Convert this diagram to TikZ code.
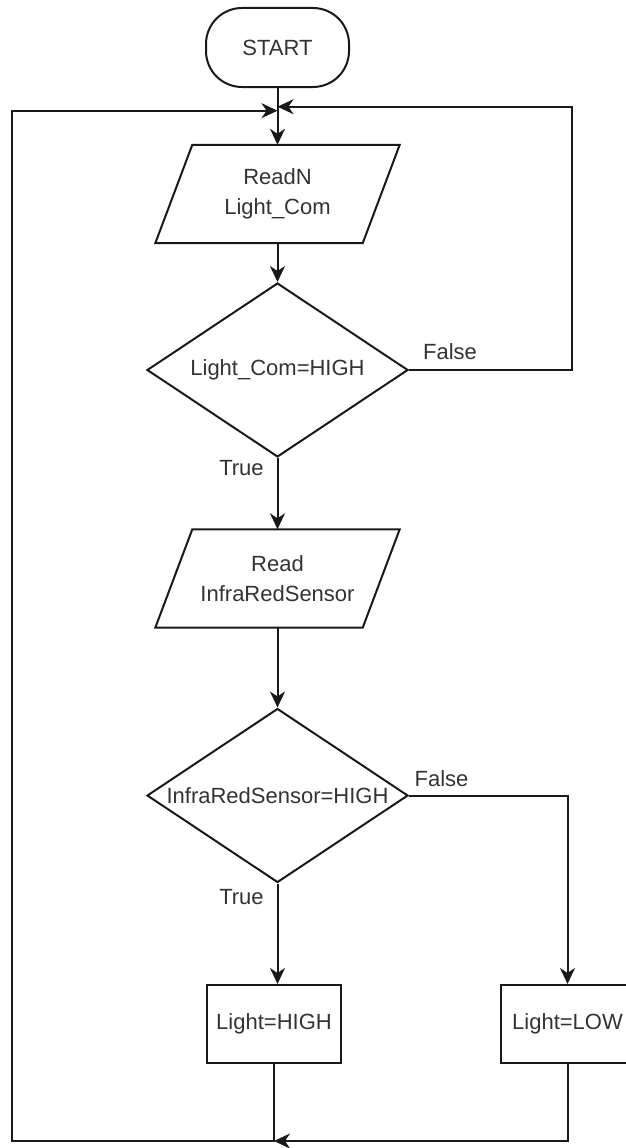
\documentclass[tikz,border=0pt]{standalone}
\usepackage{fontspec}
\setmainfont{Liberation Sans}
\usetikzlibrary{shapes.geometric,arrows.meta,calc}
\begin{document}
\begin{tikzpicture}[x=1pt,y=-1pt,
  every node/.style={font=\fontsize{22}{30}\selectfont, text=black!80},
  ln/.style={line width=2pt, draw=black!90},
  arr/.style={ln, -{Stealth[length=16pt,width=15pt,inset=5pt]}},
  term/.style={ln, rectangle, rounded corners=36pt, minimum width=143pt, minimum height=79pt, inner sep=0pt},
  io/.style={minimum width=244pt, minimum height=98pt, inner sep=0pt, align=center},
  dec/.style={ln, diamond, minimum width=261pt, minimum height=174pt, inner sep=0pt, aspect=1.5},
  proc/.style={ln, rectangle, minimum width=134pt, minimum height=78pt, inner sep=0pt},
  lbl/.style={inner sep=0pt}
]
\useasboundingbox (0,0) rectangle (626,1148);

% nodes
\node[term] (start) at (277.5,47.5) {START};
\node[io] (r1) at (277.5,194) {ReadN\\Light\_Com};
\node[dec] (d1) at (277.5,370) {\makebox[0pt]{Light\_Com=HIGH}};
\node[io] (r2) at (277.5,578.5) {Read\\InfraRedSensor};
\node[dec] (d2) at (277.5,795.5) {\makebox[0pt]{InfraRedSensor=HIGH}};
\node[proc] (high) at (274,1024) {Light=HIGH};
\node[proc] (low) at (567.5,1024) {Light=LOW};

% parallelogram outlines
\draw[ln] (r1.south west) -- ($(r1.south east)+(-37,0)$) -- (r1.north east) -- ($(r1.north west)+(37,0)$) -- cycle;
\draw[ln] (r2.south west) -- ($(r2.south east)+(-37,0)$) -- (r2.north east) -- ($(r2.north west)+(37,0)$) -- cycle;

% labels
\node[lbl] (f1) at (450,352) {False};
\node[lbl] (t1) at (241.5,468) {True};
\node[lbl] (f2) at (441.5,779) {False};
\node[lbl] (t2) at (241.5,897) {True};

% helper coordinates
\coordinate (jl) at (277.5,110.7);
\coordinate (jr) at (277.5,106.7);
\coordinate (rc) at (571.7,106.7);
\coordinate (bl) at (12,1141);

% connectors
\draw[arr] (start.south) -- (r1.north);
\draw[arr] (r1.south) -- (d1.north);
\draw[arr] (d1.south) -- (r2.north);
\draw[arr] (r2.south) -- (d2.north);
\draw[arr] (d1.east) -| (rc) -- (jr);
\draw[arr] (d2.south) -- (d2.south |- high.north);
\draw[arr] (d2.east) -| (low.north);
\draw[arr] (high.south) |- (bl) |- (jl);
\draw[arr] (low.south) |- (high.south |- bl);
\end{tikzpicture}
\end{document}
